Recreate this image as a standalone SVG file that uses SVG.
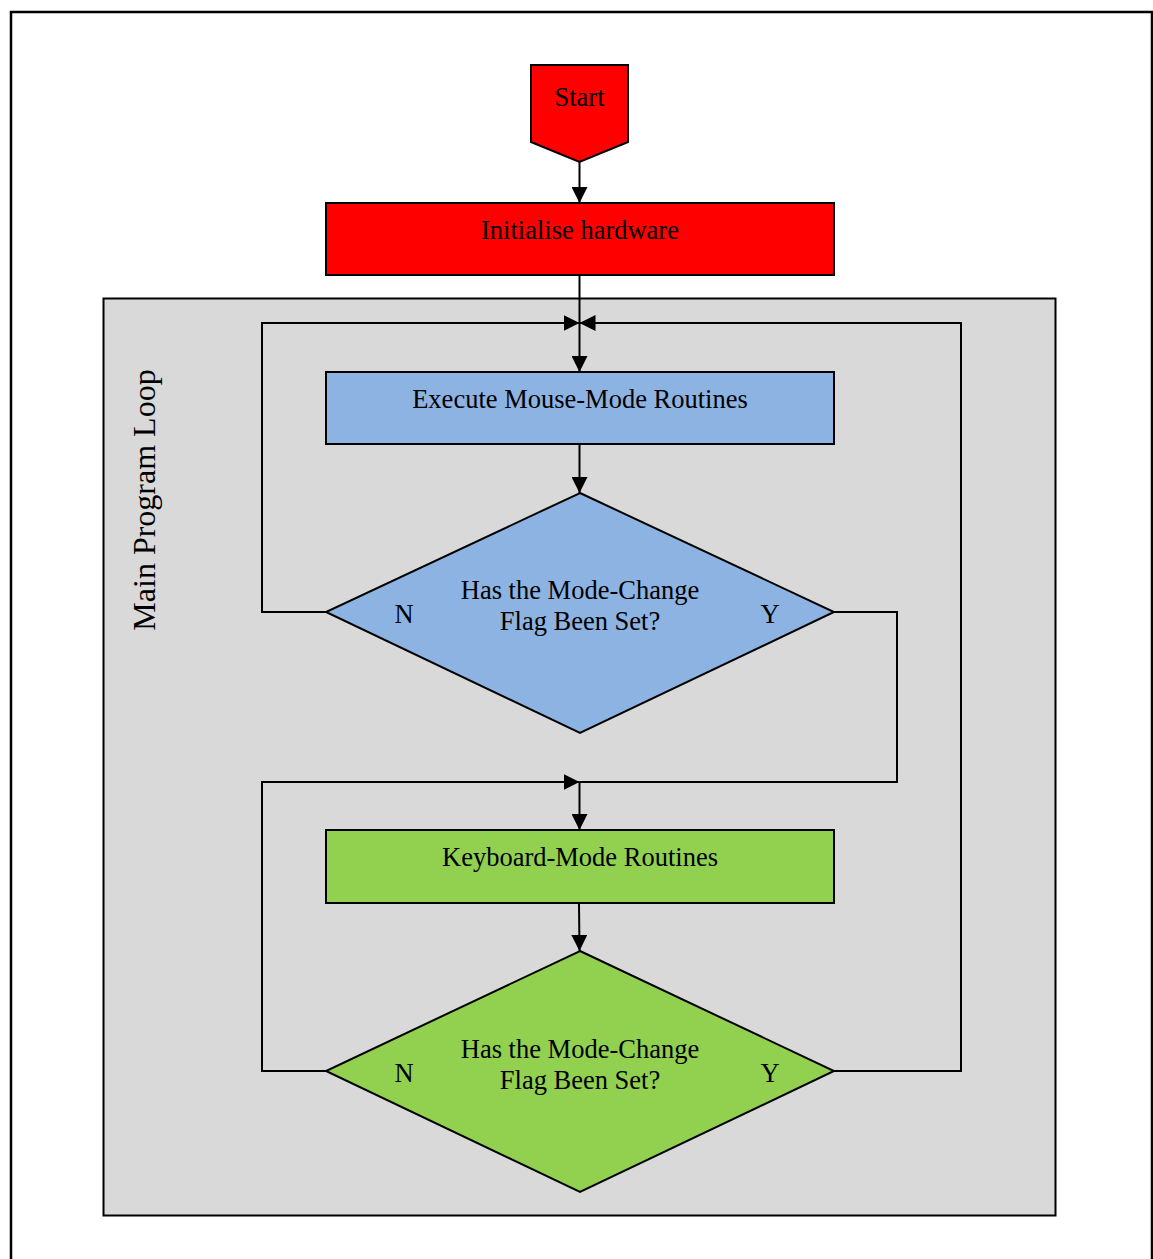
<svg xmlns="http://www.w3.org/2000/svg" width="1153" height="1259" viewBox="0 0 1153 1259">
  <defs>
    <marker id="arrow" viewBox="0 0 10 10" refX="10" refY="5" markerWidth="16" markerHeight="16" markerUnits="userSpaceOnUse" orient="auto">
      <path d="M0,0 L10,5 L0,10 z" fill="#000"/>
    </marker>
    <style>
      .shape { stroke: #000; stroke-width: 2; }
      .lbl { font-family: "Liberation Serif", "Times New Roman", serif; font-size: 26.5px; fill: #000; text-anchor: middle; }
      .wire { fill: none; stroke: #000; stroke-width: 2; }
      .arr { marker-end: url(#arrow); }
    </style>
  </defs>

  <!-- page frame -->
  <path d="M11,1259 V12 H1152 V1259" fill="#fff" stroke="#000" stroke-width="2.5"/>

  <!-- loop container -->
  <g id="main-loop">
    <rect x="103.5" y="298.5" width="952" height="917" fill="#d9d9d9" stroke="#000" stroke-width="2"/>
    <text class="lbl" transform="translate(155,500) rotate(-90)" style="font-size:32px">Main Program Loop</text>
  </g>

  <g id="start">
    <path class="shape" d="M531,65 H628 V142 L579.5,162 L531,142 Z" fill="#ff0000"/>
    <text class="lbl" x="579.5" y="106">Start</text>
  </g>

  <g id="init-hw">
    <rect class="shape" x="326" y="203" width="508" height="72" fill="#ff0000"/>
    <text class="lbl" x="580" y="239">Initialise hardware</text>
  </g>

  <g id="mouse-mode">
    <rect class="shape" x="326" y="372" width="508" height="72" fill="#8db3e2"/>
    <text class="lbl" x="580" y="408">Execute Mouse-Mode Routines</text>
  </g>

  <g id="check-1">
    <path class="shape" d="M580,493 L834,612 L580,733 L326,612 Z" fill="#8db3e2"/>
    <text class="lbl" x="580" y="599">Has the Mode-Change</text>
    <text class="lbl" x="580" y="630">Flag Been Set?</text>
    <text class="lbl" x="404" y="623">N</text>
    <text class="lbl" x="770" y="623">Y</text>
  </g>

  <g id="keyboard-mode">
    <rect class="shape" x="326" y="830" width="508" height="73" fill="#92d050"/>
    <text class="lbl" x="580" y="866">Keyboard-Mode Routines</text>
  </g>

  <g id="check-2">
    <path class="shape" d="M580,951 L834,1071 L580,1192 L326,1071 Z" fill="#92d050"/>
    <text class="lbl" x="580" y="1058">Has the Mode-Change</text>
    <text class="lbl" x="580" y="1089">Flag Been Set?</text>
    <text class="lbl" x="404" y="1082">N</text>
    <text class="lbl" x="770" y="1082">Y</text>
  </g>

  <g id="connectors">
    <line class="wire arr" x1="579.5" y1="162" x2="579.5" y2="203"/>
    <line class="wire arr" x1="579.5" y1="275" x2="579.5" y2="372"/>
    <!-- loop back from check-1 N -->
    <polyline class="wire arr" points="326,612 262,612 262,323 579.5,323"/>
    <!-- loop back from check-2 Y -->
    <polyline class="wire arr" points="834,1071 961,1071 961,323 579.5,323"/>
    <line class="wire arr" x1="579.5" y1="444" x2="579.5" y2="493"/>
    <!-- check-1 Y to keyboard mode -->
    <polyline class="wire" points="834,612 897,612 897,782 579.5,782"/>
    <!-- check-2 N back to keyboard mode -->
    <polyline class="wire arr" points="326,1071 262,1071 262,782 579.5,782"/>
    <line class="wire arr" x1="579.5" y1="782" x2="579.5" y2="830"/>
    <line class="wire arr" x1="579" y1="903" x2="579.5" y2="951"/>
  </g>
</svg>
